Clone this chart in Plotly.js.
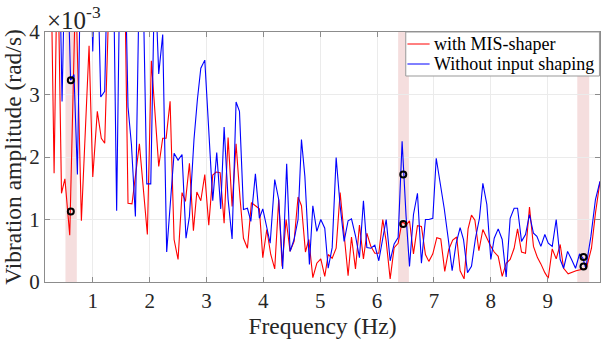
<!DOCTYPE html>
<html>
<head>
<meta charset="utf-8">
<script src="https://cdn.plot.ly/plotly-3.0.1.min.js"></script>
<style>html,body{margin:0;padding:0;background:#fff;}#chart{width:602px;height:342px;}</style>
</head>
<body>
<div id="chart"></div>
<script>
// Frequencies (Hz) and amplitudes (x1e-3 rad/s)
var freqMIS = [0.16,0.25,0.32,0.38,0.45,0.51,0.595,0.70,0.80,0.935,1.0,1.08,1.15,1.21,1.30,1.40,1.50,1.56,1.62,1.69,1.82,1.96,2.03,2.16,2.23,2.29,2.36,2.43,2.50,2.57,2.63,2.70,2.77,2.83,2.90,2.97,3.04,3.11,3.17,3.24,3.31,3.38,3.45,3.52,3.59,3.65,3.72,3.79,3.86,3.93,3.99,4.06,4.13,4.20,4.27,4.33,4.40,4.47,4.54,4.61,4.67,4.74,4.80,4.87,4.94,5.01,5.08,5.14,5.21,5.28,5.35,5.42,5.49,5.55,5.62,5.69,5.76,5.82,5.89,5.96,6.03,6.10,6.16,6.23,6.30,6.37,6.44,6.51,6.57,6.64,6.71,6.78,6.85,6.91,6.98,7.05,7.12,7.19,7.26,7.33,7.40,7.46,7.53,7.60,7.66,7.72,7.79,7.86,7.93,8.00,8.06,8.13,8.20,8.27,8.34,8.41,8.47,8.54,8.61,8.68,8.75,8.82,8.88,8.95,9.01,9.08,9.15,9.22,9.28,9.36,9.50,9.64,9.68,9.77,9.84,9.92];
var ampMIS = [6.0,6.0,1.74,5.5,1.42,1.65,0.75,4.8,0.98,3.78,1.68,2.73,2.30,2.22,5.0,5.5,5.0,5.0,1.26,1.25,2.21,0.76,3.54,1.85,2.30,2.30,2.89,0.68,0.36,1.43,1.29,1.90,0.82,1.44,1.30,1.72,0.91,1.71,1.76,1.75,0.94,2.31,1.21,2.21,1.34,0.70,0.54,1.27,1.22,1.17,0.39,0.84,0.44,0.21,1.32,0.25,1.00,0.49,0.65,1.36,1.22,0.48,0.68,0.07,0.30,0.37,0.09,0.44,0.38,0.54,1.43,0.70,0.10,0.72,0.21,0.91,0.37,0.78,0.57,0.46,0.46,1.00,0.65,0.05,0.55,0.62,0.97,0.91,0.98,0.45,0.90,0.89,0.44,0.33,0.45,0.71,0.69,0.17,0.52,0.67,0.72,0.18,0.05,0.85,1.07,0.99,0.50,0.84,0.69,0.57,0.48,0.41,0.09,0.30,0.36,0.54,0.85,0.48,0.46,1.20,0.57,0.39,0.29,0.15,0.06,0.53,0.37,0.60,0.22,0.13,0.18,0.22,0.22,0.54,1.10,1.61];

var freqNoIS = [0.16,0.25,0.32,0.40,0.46,0.53,0.61,0.67,0.73,0.80,0.87,0.94,1.0,1.06,1.14,1.21,1.28,1.35,1.42,1.49,1.55,1.62,1.68,1.75,1.82,1.88,1.95,2.02,2.09,2.16,2.23,2.30,2.43,2.50,2.57,2.64,2.70,2.78,2.84,2.90,2.97,3.05,3.11,3.18,3.25,3.31,3.38,3.45,3.52,3.58,3.65,3.72,3.78,3.86,3.93,3.99,4.06,4.12,4.20,4.27,4.34,4.41,4.47,4.54,4.61,4.67,4.73,4.81,4.87,4.94,5.01,5.08,5.14,5.21,5.28,5.35,5.42,5.49,5.55,5.62,5.69,5.76,5.82,5.89,5.96,6.03,6.10,6.16,6.23,6.30,6.37,6.44,6.51,6.57,6.64,6.71,6.78,6.85,6.91,6.98,7.04,7.11,7.18,7.25,7.32,7.39,7.46,7.52,7.59,7.66,7.73,7.80,7.86,7.93,8.00,8.06,8.13,8.20,8.27,8.34,8.41,8.47,8.54,8.61,8.68,8.75,8.81,8.88,8.95,9.01,9.08,9.15,9.22,9.28,9.35,9.42,9.49,9.56,9.62,9.67,9.76,9.84,9.92];
var ampNoIS = [6.0,6.0,6.0,6.0,2.89,6.0,3.23,3.32,1.72,6.0,6.0,6.0,3.69,6.0,2.96,3.05,6.0,6.0,1.14,6.0,6.0,2.8,2.2,1.05,5.0,5.0,1.57,1.57,5.0,3.33,3.96,0.48,2.06,1.95,2.04,0.70,1.05,2.28,2.92,3.42,3.55,2.22,1.30,2.07,1.17,2.48,1.32,0.69,2.88,2.73,1.16,1.18,0.97,1.73,1.02,1.17,0.84,0.62,1.64,1.32,0.21,1.89,0.49,0.68,1.00,2.28,1.69,0.28,1.22,0.81,1.00,0.86,0.22,0.55,1.99,1.22,0.65,0.98,1.01,0.74,0.39,1.30,0.55,0.54,0.59,0.34,0.70,1.00,0.34,0.61,0.71,2.25,1.05,0.25,1.08,1.42,0.30,1.00,1.00,1.02,1.98,1.61,1.18,0.70,0.18,0.62,0.87,0.68,0.15,0.25,0.70,1.02,1.58,1.24,0.36,0.70,0.85,0.68,0.08,1.02,1.18,1.18,0.65,0.76,1.08,0.78,0.73,0.57,0.76,0.62,0.57,1.00,0.36,0.22,0.49,0.36,0.22,0.45,0.38,0.22,0.73,1.32,1.61];

// highlighted bands (Hz) and marked points
var bandStart = [0.52, 6.37, 9.52];
var bandEnd = [0.72, 6.56, 9.73];
var markFreq = [0.614, 0.614, 6.46, 6.46, 9.63, 9.63];
var markAmp = [3.23, 1.13, 1.72, 0.93, 0.40, 0.25];

var xTicks = [1,2,3,4,5,6,7,8,9];
var yTicks = [0,1,2,3,4];
var seriesNames = ['with MIS-shaper', 'Without input shaping'];
var seriesColors = ['rgb(255,0,0)', 'rgb(0,0,255)'];

var FONT = '"Liberation Serif", "Times New Roman", Times, serif';

var traces = [
  {x: freqMIS, y: ampMIS, type: 'scatter', mode: 'lines', name: seriesNames[0],
   line: {color: seriesColors[0], width: 1.1}},
  {x: freqNoIS, y: ampNoIS, type: 'scatter', mode: 'lines', name: seriesNames[1],
   line: {color: seriesColors[1], width: 1.1}},
  {x: markFreq, y: markAmp, type: 'scatter', mode: 'markers',
   marker: {symbol: 'circle-open', size: 6, color: 'black', line: {width: 2, color: 'black'}}}
];

var shapes = bandStart.map(function(s, i) {
  return {type: 'rect', xref: 'x', yref: 'paper', x0: s, x1: bandEnd[i], y0: 0, y1: 1,
          fillcolor: 'rgba(225,160,160,0.35)', line: {width: 0}, layer: 'below'};
});

// legend drawn in paper coordinates (box, sample lines, labels)
var legX0 = 0.650, legX1 = 0.999, legY0 = 0.824, legY1 = 1.0;
var legRows = [0.952, 0.872];
shapes.push({type: 'rect', xref: 'paper', yref: 'paper', x0: legX0, x1: legX1, y0: legY0, y1: legY1,
             fillcolor: '#ffffff', line: {color: '#999999', width: 1}, layer: 'above'});
var annotations = [];
seriesNames.forEach(function(nm, i) {
  shapes.push({type: 'line', xref: 'paper', yref: 'paper', x0: 0.653, x1: 0.693,
               y0: legRows[i], y1: legRows[i], line: {color: seriesColors[i], width: 1}, layer: 'above'});
  annotations.push({xref: 'paper', yref: 'paper', x: 0.697, y: legRows[i], xanchor: 'left', yanchor: 'middle',
                    showarrow: false, text: nm, font: {family: FONT, size: 18, color: '#000'}});
});
annotations.push({xref: 'paper', yref: 'paper', x: 0, y: 1, xanchor: 'left', yanchor: 'bottom',
                  xshift: 0, yshift: -4, showarrow: false, text: '×10<sup>-3</sup>',
                  font: {family: FONT, size: 25, color: '#262626'}});

var layout = {
  width: 602, height: 342,
  margin: {l: 45, r: 2, t: 32, b: 60},
  paper_bgcolor: '#ffffff', plot_bgcolor: '#ffffff',
  font: {family: FONT, size: 20, color: '#262626'},
  showlegend: false,
  xaxis: {range: [0.16, 9.92], tickvals: xTicks, ticktext: xTicks.map(String),
          showgrid: true, gridcolor: '#ebebeb', zeroline: false,
          showline: true, linecolor: '#8c8c8c', linewidth: 1, mirror: 'ticks',
          ticks: 'inside', ticklen: 5, tickcolor: '#8c8c8c',
          tickfont: {family: FONT, size: 21, color: '#262626'},
          title: {text: 'Frequency (Hz)', font: {family: FONT, size: 23.5, color: '#262626'}, standoff: 0}},
  yaxis: {range: [0, 4], tickvals: yTicks, ticktext: yTicks.map(String),
          showgrid: true, gridcolor: '#ebebeb', zeroline: false,
          showline: true, linecolor: '#8c8c8c', linewidth: 1, mirror: 'ticks',
          ticks: 'inside', ticklen: 5, tickcolor: '#8c8c8c',
          tickfont: {family: FONT, size: 21, color: '#262626'},
          title: {text: 'Vibration amplitude (rad/s)', font: {family: FONT, size: 23.5, color: '#262626'}, standoff: 2}},
  shapes: shapes,
  annotations: annotations
};

Plotly.newPlot('chart', traces, layout, {displayModeBar: false, staticPlot: true});
</script>
</body>
</html>
